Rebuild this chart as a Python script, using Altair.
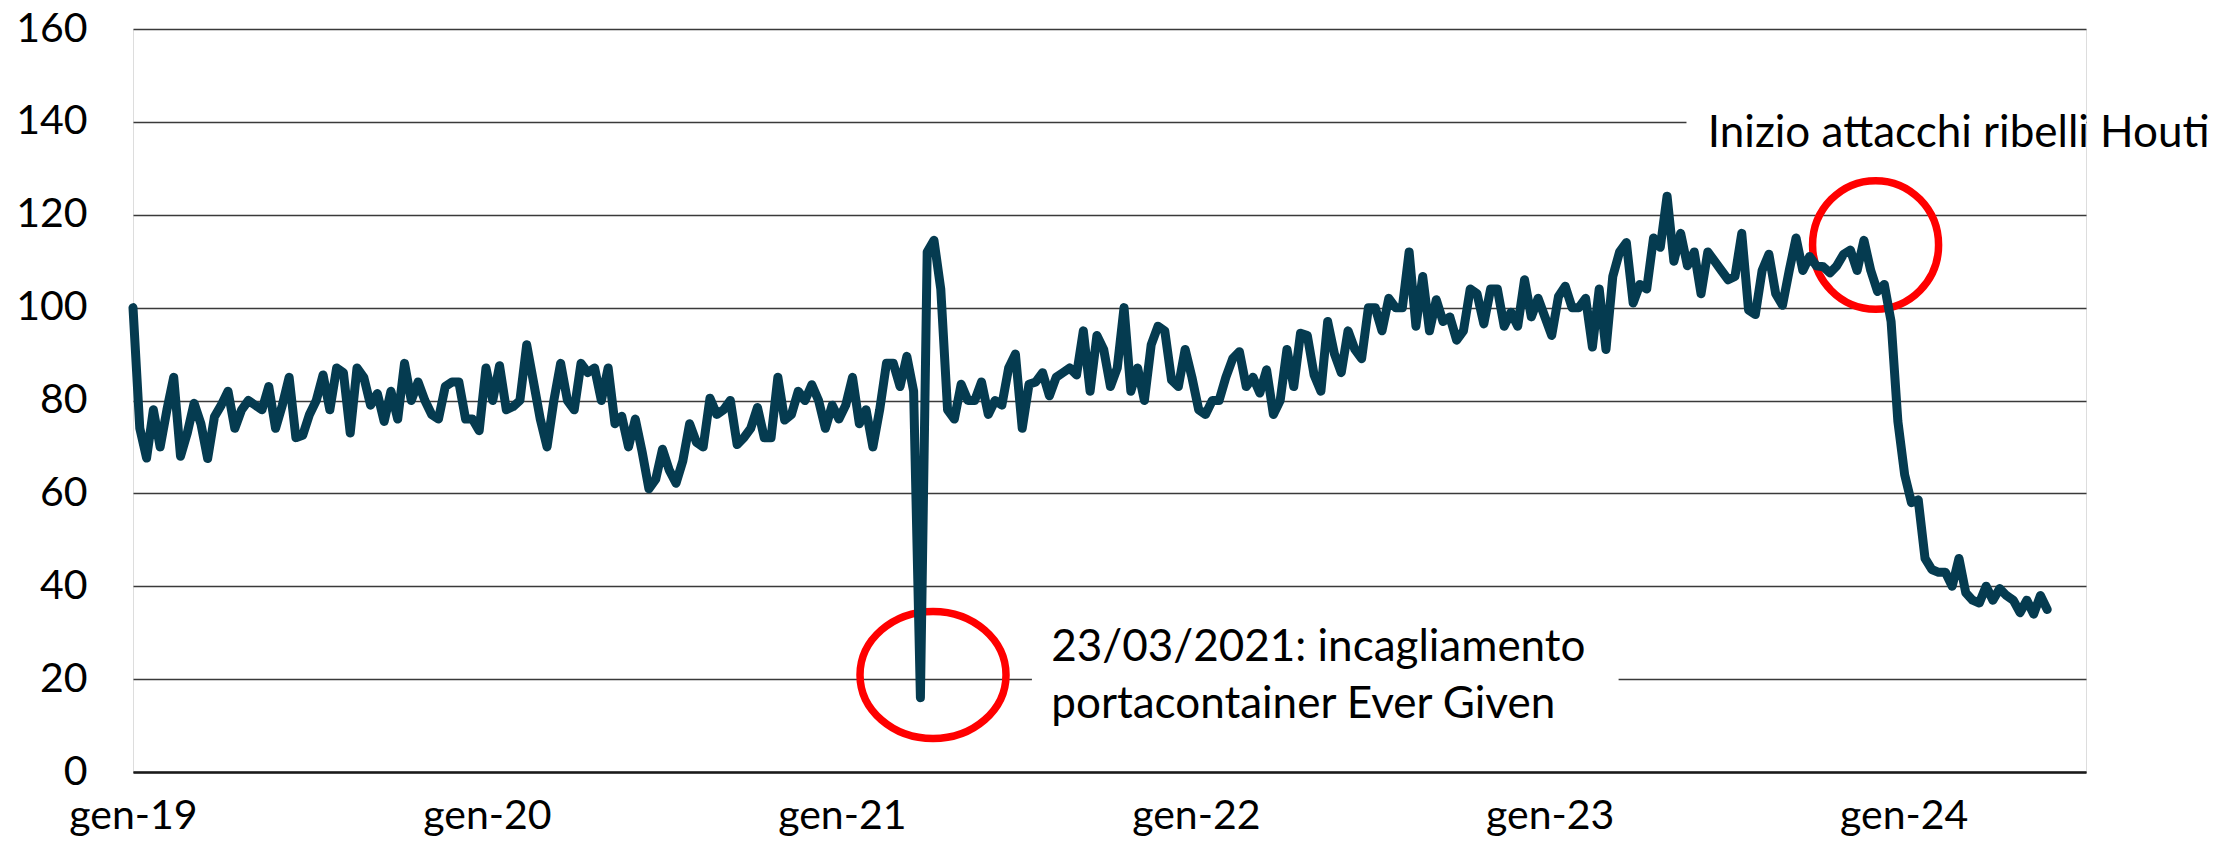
import altair as alt
import pandas as pd

# ---------------- data (weekly readings, start 2019-01-01) ----------------
START = "2019-01-01"
values_2019 = [100, 74, 67.6, 78, 70, 78, 85, 68, 73, 79.4, 75, 67.5, 76.5, 79, 82, 74,
               78, 80, 79, 78, 83, 74, 79, 85, 72, 72.5, 77, 80, 85.5, 78, 87, 86, 73,
               87, 85, 79, 81.5, 75.5, 82, 76, 88, 80, 84, 80, 77, 76, 83]
values_2020 = [84, 84, 76, 76, 73.5, 87, 80, 87.5, 78, 78.7, 80, 92, 84, 76, 70, 80,
               88, 80, 78, 88, 86, 87, 80, 87, 75, 76.6, 70, 76, 69, 61, 63, 69.5, 65,
               62.2, 67, 75, 71, 70, 80.5, 77, 78, 80, 70.5, 72, 74, 78.5, 72]
values_2021 = [72, 85, 75.8, 77, 82, 80, 83.4, 80, 74, 79, 76, 79, 85, 75, 78, 70, 78,
               88, 88, 83, 89.5, 82, 16, 112, 114.5, 104, 78, 76, 83.5, 80, 80, 84, 77,
               80, 79, 87, 90, 74, 83.5, 84, 86, 81, 85, 86, 87, 85.5, 95]
values_2022 = [82, 94, 91, 83, 87, 100, 82, 87, 80, 92, 96, 95, 84.4, 83, 91, 85, 78,
               77, 80, 80, 85, 89, 90.5, 83, 85, 81.6, 86.6, 77, 80, 91, 83, 94.5, 94,
               85.5, 82, 97, 90, 86, 95, 91, 89, 100, 100, 95, 102, 100, 100]
values_2023 = [112, 96, 106.7, 95, 101.7, 97, 98, 93, 95, 104, 103, 96.5, 104, 104, 96,
               99, 96, 106, 98, 102, 98, 94, 102.4, 104.6, 100, 100, 102, 91.5, 104, 91,
               106.7, 112, 114, 101, 105, 104, 115, 113, 124, 110, 116, 109, 112, 103,
               112, 110, 108]
values_2024 = [106, 106.7, 116, 99.5, 98.5, 108, 111.5, 103, 100.5, 108, 115, 108, 111,
               109, 108.8, 107.5, 109, 111.5, 112.4, 108, 114.5, 108, 103.5, 105, 97, 75.5,
               64, 58, 58.6, 46, 43.6, 43, 43, 40, 46, 38.6, 37, 36.4, 40, 37, 39.5, 38,
               37, 34.3, 37, 34, 38, 35]

values = values_2019 + values_2020 + values_2021 + values_2022 + values_2023 + values_2024
dates = pd.date_range(START, periods=len(values), freq="7D").strftime("%Y-%m-%d").tolist()
series = pd.DataFrame({"date": dates, "value": values})

tick_years = [2019, 2020, 2021, 2022, 2023, 2024]
y_ticks = [0, 20, 40, 60, 80, 100, 120, 140, 160]

# annotations
note_dates = ["2021-08-05", "2021-08-05", "2023-06-13"]
note_values = [23.9, 11.6, 134.6]
note_texts = ["23/03/2021: incagliamento", "portacontainer Ever Given",
              "Inizio attacchi ribelli Houti"]
notes = pd.DataFrame({"date": note_dates, "value": note_values, "label": note_texts})

box_start = ["2021-07-16", "2023-05-22"]
box_end = ["2023-03-13", "2024-07-07"]
box_low = [9, 131]
box_high = [32, 148]
boxes = pd.DataFrame({"d1": box_start, "d2": box_end, "v1": box_low, "v2": box_high})

circle_dates = ["2021-04-05", "2023-12-03"]
circle_values = [20.9, 113.5]

# ---------------- styling ----------------
LINE_COLOR = "#053B50"
FONT = "Lato"
FS = 41


def ellipse_path(k):
    c = 0.5523
    return (f"M 1 0 C 1 {c*k:.4f} {c:.4f} {k:.4f} 0 {k:.4f} "
            f"C {-c:.4f} {k:.4f} -1 {c*k:.4f} -1 0 "
            f"C -1 {-c*k:.4f} {-c:.4f} {-k:.4f} 0 {-k:.4f} "
            f"C {c:.4f} {-k:.4f} 1 {-c*k:.4f} 1 0 Z")


x_scale = alt.Scale(type="utc",
                    domain=[alt.DateTime(year=2019, month=1, date=1, utc=True),
                            alt.DateTime(year=2024, month=7, date=7, utc=True)])
y_scale = alt.Scale(domain=[0, 160], nice=False, zero=True)

x_axis = alt.Axis(values=[alt.DateTime(year=y, month=1, date=1, utc=True) for y in tick_years],
                  labelExpr="'gen-' + utcFormat(datum.value, '%y')",
                  grid=False, domain=True, domainColor="#1a1a1a", domainWidth=2.5,
                  ticks=False, tickSize=0, labelFont=FONT, labelFontSize=FS,
                  labelColor="black", labelPadding=56, labelBaseline="alphabetic",
                  labelFlush=False, labelOverlap=False, title=None)
y_axis = alt.Axis(values=y_ticks, grid=True, gridColor="#3a3a3a", gridWidth=1.5,
                  domain=False, ticks=False, tickSize=0, labelFont=FONT, labelFontSize=FS,
                  labelColor="black", labelPadding=46, title=None)

base_line = alt.Chart(series).mark_line(
    color=LINE_COLOR, strokeWidth=9, strokeJoin="round", strokeCap="round"
).encode(
    x=alt.X("date:T", scale=x_scale, axis=x_axis),
    y=alt.Y("value:Q", scale=y_scale, axis=y_axis),
)

rects = alt.Chart(boxes).mark_rect(color="white").encode(
    x="d1:T", x2="d2:T", y="v1:Q", y2="v2:Q"
)

c1 = alt.Chart(pd.DataFrame({"date": [circle_dates[0]], "value": [circle_values[0]]})).mark_point(
    shape=ellipse_path(0.87), size=146 ** 2, filled=False, color="#FF0000",
    strokeWidth=7.5, opacity=1
).encode(x="date:T", y="value:Q")

c2 = alt.Chart(pd.DataFrame({"date": [circle_dates[1]], "value": [circle_values[1]]})).mark_point(
    shape=ellipse_path(1.02), size=126 ** 2, filled=False, color="#FF0000",
    strokeWidth=7.5, opacity=1
).encode(x="date:T", y="value:Q")

texts = alt.Chart(notes).mark_text(
    align="left", baseline="alphabetic", font=FONT, fontSize=44, color="black"
).encode(x="date:T", y="value:Q", text="label:N")

chart = alt.layer(rects, c1, c2, base_line, texts).properties(
    width=1953, height=743,
    padding={"left": 125, "top": 21, "right": 127, "bottom": 66},
    autosize=alt.AutoSizeParams(type="none"),
).configure_view(stroke=None).configure(background="white")

chart.save("out.html", embed_options={"renderer": "svg", "actions": False})
